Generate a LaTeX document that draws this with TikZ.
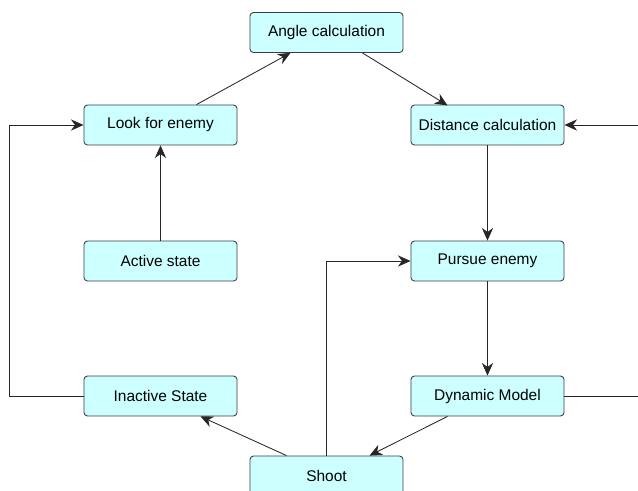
\documentclass[tikz,border=0pt]{standalone}
\usepackage{fontspec}
\setmainfont{Liberation Sans}
\usepackage{tikz}
\usetikzlibrary{arrows.meta, calc}
\definecolor{BoxFill}{RGB}{204,255,255}
\definecolor{BoxLine}{RGB}{60,60,60}

\begin{document}
\begin{tikzpicture}[
      x=0.025cm, y=-0.025cm,
      state/.style={rectangle, rounded corners=2.5pt, minimum width=3.825cm,
                    minimum height=1cm, draw=BoxLine, fill=BoxFill,
                    line width=0.6pt, font=\fontsize{11}{13}\selectfont},
      flow/.style={-{Stealth[length=9pt, width=8pt]}, line width=0.6pt, black!85}
    ]
    \clip (0,0) rectangle (638,491);
    \useasboundingbox (0,0) rectangle (638,491);

    % States
    \node[state] (angle)    at (326.5, 32.5) {Angle calculation};
    \node[state] (look)     at (160.5, 125)  {Look for enemy};
    \node[state] (distance) at (487.5, 125)  {Distance calculation};
    \node[state] (active)   at (160.5, 261)  {Active state};
    \node[state] (pursue)   at (487.5, 261)  {Pursue enemy};
    \node[state] (inactive) at (160.5, 396)  {Inactive State};
    \node[state] (dynamic)  at (487.5, 396)  {Dynamic Model};
    \node[state] (shoot)    at (326.5, 476)  {Shoot};

    % Transitions
    \draw[flow] ($(look.north)+(36,0)$) -- ($(angle.south)+(-36,0)$);
    \draw[flow] ($(angle.south)+(36,0)$) -- ($(distance.south)+(-40,-40)$);
    \draw[flow] (distance) -- (pursue);
    \draw[flow] (pursue) -- (dynamic);
    \draw[flow] (active) -- (look);
    \draw[flow] ($(dynamic.south)+(-40,0)$) -- ($(shoot.north)+(43,0)$);
    \draw[flow] ($(shoot.north)+(-40,0)$) -- ($(inactive.south)+(40,0)$);
    \draw[flow] (shoot.north) |- (pursue.west);
    \draw[flow] (inactive.west) -- ++(-74,0) |- (look.west);
    \draw[flow] (dynamic.east) -- ++(120,0) |- (distance.east);
\end{tikzpicture}
\end{document}
